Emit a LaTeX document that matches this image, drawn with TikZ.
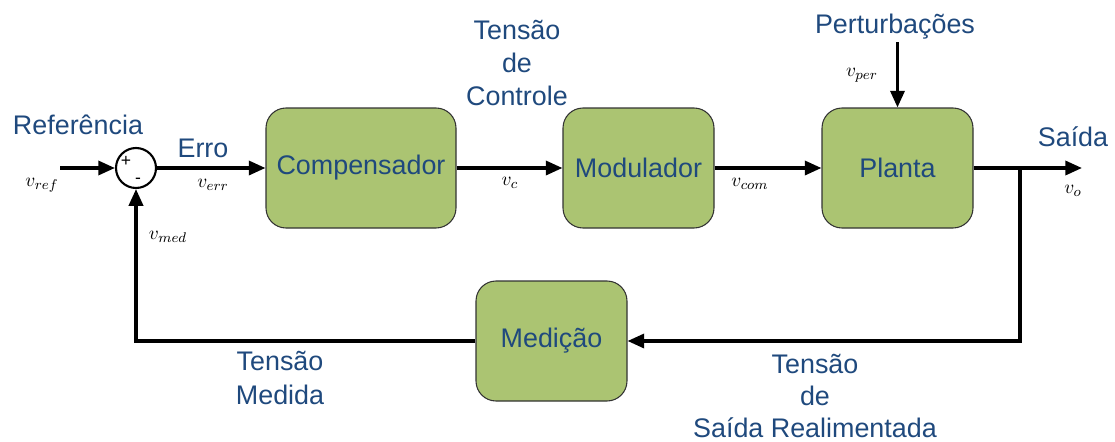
\documentclass[tikz,border=0pt]{standalone}
\usepackage{fontspec}
\setmainfont{Liberation Sans}
\usepackage{tikz}
\usetikzlibrary{arrows.meta}
\definecolor{txtblue}{RGB}{31,73,125}
\definecolor{blkgreen}{RGB}{171,196,114}
\tikzset{
  block/.style={draw=black!80,line width=0.6pt,fill=blkgreen,rounded corners=0.4cm,
    minimum width=3.02cm,minimum height=2.4cm,text=txtblue,font=\fontsize{15.3}{18}\selectfont},
  sumnode/.style={draw,circle,line width=1.2pt,minimum size=0.8cm,inner sep=0pt},
  lbl/.style={text=txtblue,align=center,font=\fontsize{15.3}{19}\selectfont},
  sig/.style={font=\fontsize{11}{13}\selectfont},
  wire/.style={line width=1.9pt},
}

\begin{document}
\begin{tikzpicture}[>={Triangle[length=9.5pt,width=8pt]}]
\useasboundingbox (0,0) rectangle (22.3,8.82);

% blocos
\node[sumnode] (sum) at (2.72,5.46) {};
\node[block,minimum width=3.8cm] (comp) at (7.22,5.46) {Compensador};
\node[block] (mod) at (12.77,5.46) {Modulador};
\node[block] (plant) at (17.95,5.46) {Planta};
\node[block] (med) at (11.03,2.0) {Medição};

\node[font=\normalsize] (plus) at (2.52,5.6) {+};
\node[font=\normalsize] (minus) at (2.76,5.2) {-};

% pontas livres
\coordinate (in) at (1.2,5.46);
\coordinate (out) at (21.64,5.46);
\coordinate (branch) at (20.4,5.46);
\coordinate (dist) at (17.95,7.98);

% ligacoes
\draw[wire,->] (in) -- (sum);
\draw[wire,->] (sum) -- (comp);
\draw[wire,->] (comp) -- (mod);
\draw[wire,->] (mod) -- (plant);
\draw[wire,->] (plant) -- (out);
\draw[wire,->] (branch) |- (med);
\draw[wire,->] (med) -| (sum);
\draw[wire,->] (dist) -- (plant);

% textos
\node[lbl] (ref) at (1.56,6.32) {Referência};
\node[lbl] (erro) at (4.06,5.86) {Erro};
\node[lbl] (tctrl) at (10.34,7.56) {Tensão\\de\\Controle};
\node[lbl] (pert) at (17.9,8.28) {Perturbações};
\node[lbl] (saida) at (21.46,6.08) {Saída};
\node[lbl] (tmed) at (5.6,1.26) {Tensão\\Medida};
\node[lbl,font=\fontsize{15.3}{18}\selectfont] (tsr) at (16.3,0.9) {Tensão\\de\\Saída Realimentada};

% sinais
\node[sig] (vref) at (0.84,5.12) {$v_{ref}$};
\node[sig] (verr) at (4.26,5.12) {$v_{err}$};
\node[sig] (vc) at (10.2,5.16) {$v_{c}$};
\node[sig] (vcom) at (15.0,5.14) {$v_{com}$};
\node[sig] (vper) at (17.24,7.32) {$v_{per}$};
\node[sig] (vmed) at (3.36,4.08) {$v_{med}$};
\node[sig] (vo) at (21.46,5.0) {$v_{o}$};
\end{tikzpicture}
\end{document}
